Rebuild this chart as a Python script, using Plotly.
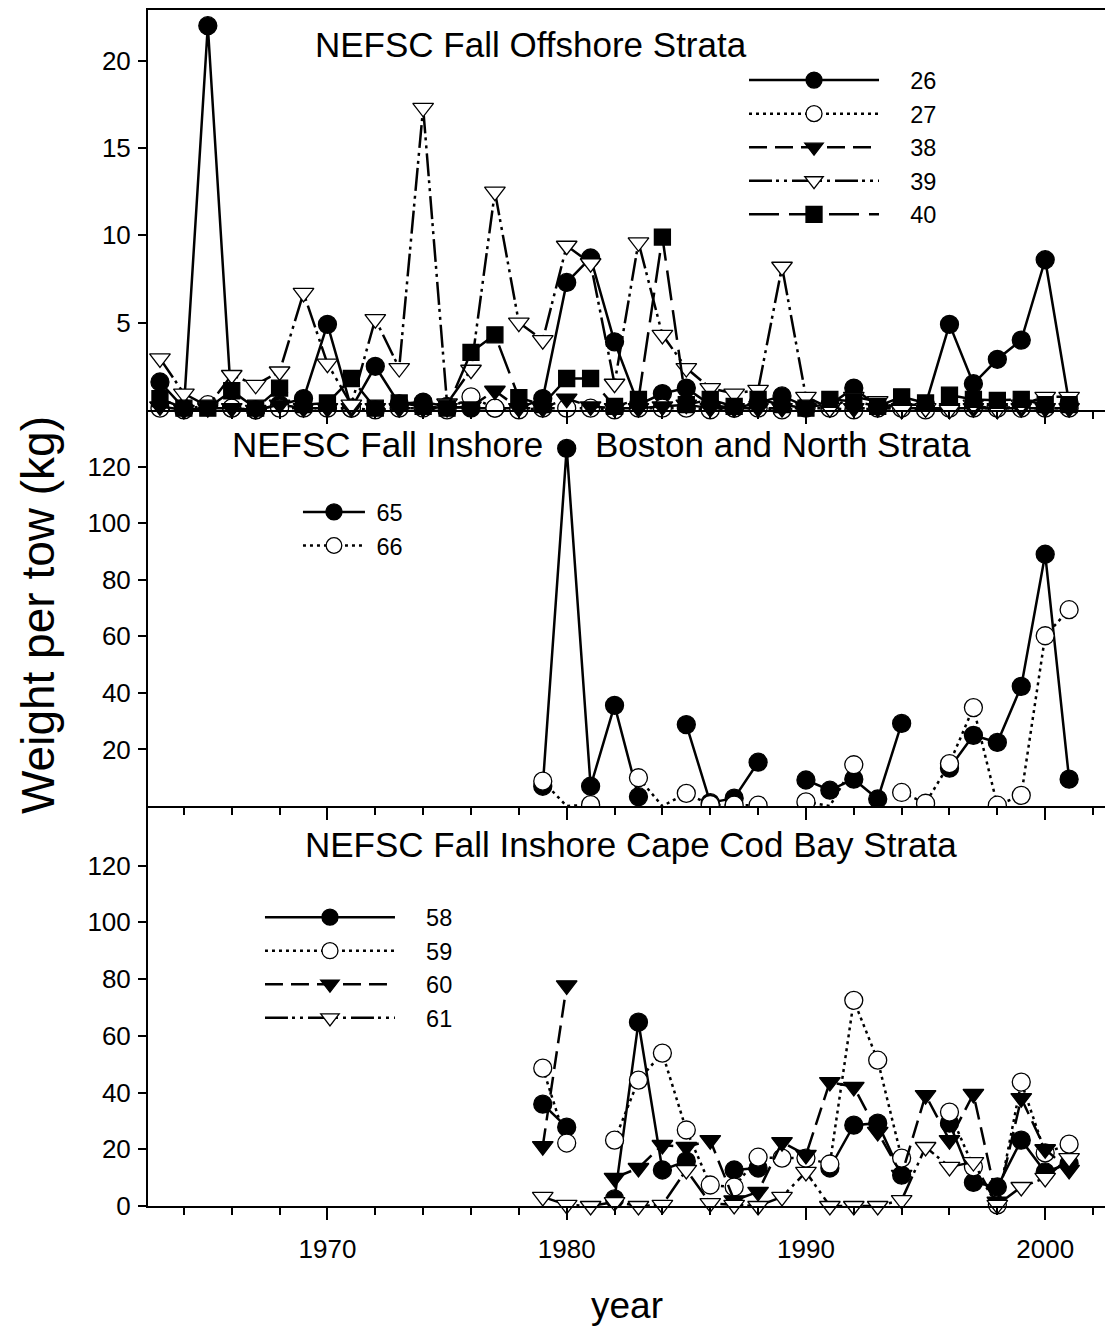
import plotly.graph_objects as go

FONT = "Liberation Sans, Arial, sans-serif"

# ---------------- data ----------------
years_off = list(range(1963, 2002))
years_in = list(range(1979, 2002))

# NEFSC Fall Offshore Strata (kg per tow)
off_26 = [1.6, 0.1, 22.0, 0.1, 0.0, 0.3, 0.65, 4.9, 0.1, 2.5,
          0.35, 0.45, 0.2, 0.1, 0.1, 0.1, 0.65, 7.3, 8.7, 3.9,
          0.3, 0.94, 1.25, 0.3, 0.1, 0.4, 0.8, 0.2, 0.3, 1.25,
          0.2, 0.3, 0.3, 4.9, 1.5, 2.9, 4.0, 8.6, 0.4]
off_27 = [0.1, 0.0, 0.3, 0.1, 0.0, 0.1, 0.1, 0.1, 0.1, 0.0,
          0.1, 0.1, 0.0, 0.75, 0.1, 0.0, 0.1, 0.1, 0.1, 0.0,
          0.1, 0.1, 0.1, 0.0, 0.1, 0.1, 0.0, 0.1, 0.1, 0.0,
          0.1, 0.1, 0.0, 0.1, 0.1, 0.1, 0.1, 0.1, 0.1]
off_38 = [0.2, 0.0, 0.1, 0.1, 0.0, 0.3, 0.1, 0.1, 0.1, 0.1,
          0.1, 0.1, 0.1, 0.2, 1.1, 0.1, 0.1, 0.65, 0.2, 0.1,
          0.1, 0.2, 0.3, 0.1, 0.1, 0.1, 0.1, 0.1, 0.1, 0.1,
          0.1, 0.1, 0.1, 0.1, 0.1, 0.1, 0.1, 0.1, 0.1]
off_39 = [2.95, 0.94, 0.2, 2.0, 1.44, 2.2, 6.7, 2.65, 0.3, 5.2,
          2.4, 17.3, 0.37, 2.3, 12.5, 5.0, 4.0, 9.4, 8.4, 1.5,
          9.6, 4.3, 2.4, 1.25, 0.94, 1.15, 8.2, 0.75, 0.1, 0.75,
          0.5, 0.0, 0.1, 0.0, 0.3, 0.0, 0.3, 0.75, 0.75]
off_40 = [0.65, 0.1, 0.1, 1.1, 0.1, 1.25, 0.3, 0.4, 1.8, 0.1,
          0.4, 0.2, 0.1, 3.3, 4.3, 0.7, 0.3, 1.8, 1.8, 0.2,
          0.6, 9.9, 0.3, 0.6, 0.2, 0.6, 0.3, 0.1, 0.6, 0.5,
          0.2, 0.75, 0.4, 0.85, 0.6, 0.55, 0.6, 0.3, 0.3]

# NEFSC Fall Inshore Boston and North Strata (1979-2001)
bos_65 = [7.0, 126.4, 7.0, 35.6, 3.3, None, 28.8, 1.2, 2.8, 15.5,
          None, 9.2, 5.6, 9.5, 2.5, 29.2, None, 13.4, 25.0, 22.5,
          42.3, 89.0, 9.5]
bos_66 = [8.8, 0.0, 0.5, None, 10.0, 0.0, 4.5, 0.5, 0.3, 0.3,
          None, 1.5, 0.0, 14.6, None, 4.8, 1.0, 15.0, 34.8, 0.3,
          3.8, 60.2, 69.4]

# NEFSC Fall Inshore Cape Cod Bay Strata (1979-2001)
ccb_58 = [35.9, 27.8, None, 2.5, 64.8, 12.7, 15.8, None, 12.7, 13.4,
          None, None, 13.4, 28.5, 29.2, 10.9, None, 29.2, 8.3, 6.7,
          23.2, 12.0, 15.0]
ccb_59 = [48.6, 22.2, None, 23.2, 44.4, 53.9, 26.8, 7.4, 6.7, 17.2,
          16.9, 16.9, 14.8, 72.5, 51.4, 16.9, None, 33.1, 13.8, 0.4,
          43.7, 18.7, 21.8]
ccb_60 = [21.1, 77.8, None, 9.9, 13.4, 21.5, 20.8, 23.2, 2.0, 5.0,
          22.5, 18.0, 43.7, 42.0, 26.1, 11.0, 39.1, 23.2, 39.5, 1.5,
          38.0, 20.0, 12.7]
ccb_61 = [3.2, 0.4, 0.0, 1.4, 0.0, 0.4, 12.7, 1.0, 0.4, 0.0,
          3.2, 12.0, 0.0, 0.0, 0.0, 2.1, 20.8, 13.8, 15.5, 0.4,
          6.7, 9.9, 16.9]

# ---------------- styles ----------------
STY = {
    "fcirc": dict(sym="circle", fill="black", dash="solid", size=18),
    "ocirc": dict(sym="circle", fill="white", dash="3px,4px", size=18),
    "ftri": dict(sym="triangle-down", fill="black", dash="18px,8px", size=18),
    "otri": dict(sym="triangle-down", fill="white",
                 dash="23px,4px,3px,5px,3px,5px", size=18),
    "fsq": dict(sym="square", fill="black", dash="30px,10px", size=16),
}

fig = go.Figure()


def add(x, y, label, sty, xa, ya, legend, pad, clip, hide_zero=False):
    s = STY[sty]
    size = s["size"]
    if hide_zero:
        # symbols lying on the axis floor are not drawn in the original
        size = [0 if v == 0 else s["size"] for v in y]
    fig.add_trace(go.Scatter(
        x=x, y=y, mode="lines+markers", name="\u00a0" * pad + label,
        xaxis=xa, yaxis=ya, legend=legend, cliponaxis=clip,
        connectgaps=False,
        line=dict(color="black", width=2.5, dash=s["dash"]),
        marker=dict(symbol=s["sym"], size=size, color=s["fill"], opacity=1,
                    line=dict(color="black", width=1.3)),
    ))


# top panel
add(years_off, off_26, "26", "fcirc", "x3", "y3", "legend", 4, False)
add(years_off, off_27, "27", "ocirc", "x3", "y3", "legend", 4, False)
add(years_off, off_38, "38", "ftri", "x3", "y3", "legend", 4, False)
add(years_off, off_39, "39", "otri", "x3", "y3", "legend", 4, False)
add(years_off, off_40, "40", "fsq", "x3", "y3", "legend", 4, False)
# middle panel
add(years_in, bos_65, "65", "fcirc", "x2", "y2", "legend2", 1, True)
add(years_in, bos_66, "66", "ocirc", "x2", "y2", "legend2", 1, True,
    hide_zero=True)
# bottom panel
add(years_in, ccb_58, "58", "fcirc", "x", "y", "legend3", 4, False)
add(years_in, ccb_59, "59", "ocirc", "x", "y", "legend3", 4, False)
add(years_in, ccb_60, "60", "ftri", "x", "y", "legend3", 4, False)
add(years_in, ccb_61, "61", "otri", "x", "y", "legend3", 4, False)

tickfont = dict(family=FONT, size=26, color="black")

xcommon = dict(range=[1962.5, 2002.5], showline=True, linewidth=2,
               linecolor="black", ticks="outside", tick0=1970, dtick=10,
               ticklen=12, tickwidth=1.5, tickcolor="black",
               showgrid=False, zeroline=False,
               minor=dict(dtick=2, tick0=1970, ticks="outside", ticklen=7,
                          tickwidth=1.5, tickcolor="black", showgrid=False),
               tickfont=tickfont)

ycommon = dict(showline=True, linewidth=2, linecolor="black",
               ticks="outside", ticklen=8, tickwidth=1.5, tickcolor="black",
               showgrid=False, zeroline=False, tickfont=tickfont,
               ticklabelstandoff=2)

D1, D2 = 0.3344, 0.6656
LFONT = dict(family=FONT, size=23.5, color="black")

fig.update_layout(
    width=1107, height=1331,
    margin=dict(l=148, r=2, t=10, b=125),
    paper_bgcolor="white", plot_bgcolor="rgba(0,0,0,0)",
    font=dict(family=FONT, color="black"),
    xaxis=dict(**xcommon, anchor="y", ticklabelstandoff=7),
    xaxis2=dict(**xcommon, anchor="y2", matches="x", showticklabels=False),
    xaxis3=dict(**xcommon, anchor="y3", matches="x", showticklabels=False,
                mirror=True),
    yaxis=dict(**ycommon, domain=[0, D1], range=[0, 141],
               tickvals=[0, 20, 40, 60, 80, 100, 120]),
    yaxis2=dict(**ycommon, domain=[D1, D2], range=[0, 140],
                tickvals=[20, 40, 60, 80, 100, 120]),
    yaxis3=dict(**ycommon, domain=[D2, 1.0], range=[0, 22.9],
                tickvals=[5, 10, 15, 20]),
    legend=dict(x=0.6228, y=0.9596, xanchor="left", yanchor="top",
                font=LFONT, itemwidth=130, bgcolor="rgba(0,0,0,0)",
                borderwidth=0),
    legend2=dict(x=0.1567, y=0.5985, xanchor="left", yanchor="top",
                 font=LFONT, itemwidth=62, bgcolor="rgba(0,0,0,0)",
                 borderwidth=0),
    legend3=dict(x=0.117, y=0.2597, xanchor="left", yanchor="top",
                 font=LFONT, itemwidth=130, bgcolor="rgba(0,0,0,0)",
                 borderwidth=0),
)

title_font = dict(family=FONT, size=35, color="black")
annots = [
    dict(text="NEFSC Fall Offshore Strata", x=0.1724, y=0.9715),
    dict(text="NEFSC Fall Inshore", x=0.0857, y=0.6368),
    dict(text="Boston and North Strata", x=0.465, y=0.6368),
    dict(text="NEFSC Fall Inshore Cape Cod Bay Strata", x=0.162, y=0.3022),
]
for a in annots:
    fig.add_annotation(xref="paper", yref="paper", xanchor="left",
                       yanchor="middle", showarrow=False, font=title_font, **a)

fig.add_annotation(text="year", xref="paper", yref="paper", x=0.5, y=-0.0828,
                   xanchor="center", yanchor="middle", showarrow=False,
                   font=dict(family=FONT, size=37, color="black"))
fig.add_annotation(text="Weight per tow (kg)", xref="paper", yref="paper",
                   x=-0.1150, y=0.4941, xanchor="center", yanchor="middle",
                   textangle=-90, showarrow=False,
                   font=dict(family=FONT, size=46, color="black"))

fig.write_html("out.html")
